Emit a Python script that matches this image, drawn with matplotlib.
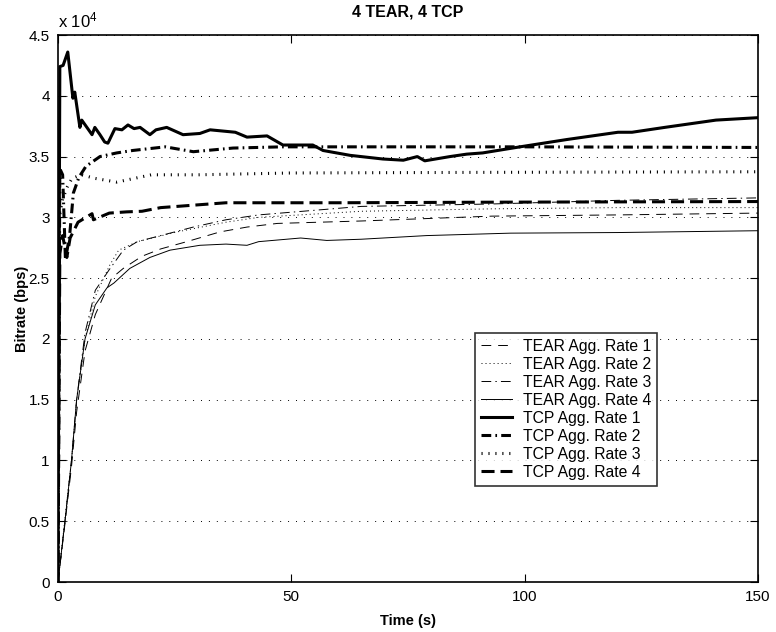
import matplotlib
matplotlib.use('Agg')
import matplotlib.pyplot as plt
from matplotlib.ticker import FuncFormatter, FixedLocator

plt.rcParams['font.family'] = ['Liberation Sans', 'DejaVu Sans']
plt.rcParams['mathtext.default'] = 'regular'
plt.rcParams['lines.scale_dashes'] = False

# values (time in s, bitrate in bps)
tear1_t = [0, 1.5, 2.9, 4, 5.8, 8, 11.5, 14, 18, 22, 27.6, 34.7, 40.5, 47, 65, 93, 120, 150]
tear1_v = [0, 4800, 9500, 14000, 19000, 22000, 25000, 25800, 26800, 27400, 28000, 28800,
           29200, 29500, 29700, 30100, 30200, 30350]

tear2_t = [0, 1.5, 2.9, 4, 5.8, 8, 11, 13, 17, 25.5, 36, 43, 65, 93, 120, 150]
tear2_v = [0, 5200, 10000, 15000, 20000, 23500, 26000, 27300, 28000, 28800, 29600, 30000,
           30500, 30700, 30800, 30800]

tear3_t = [0, 1.5, 2.9, 4, 5.8, 8, 11, 14, 17, 22, 29, 36, 43, 65, 93, 120, 150]
tear3_v = [0, 5000, 10000, 15000, 20500, 24000, 25700, 27300, 28000, 28500, 29200, 29800,
           30200, 30900, 31100, 31400, 31600]

tear4_t = [0, 1.5, 2.9, 4, 5.8, 8, 10.5, 12, 15.4, 19.7, 24, 30.4, 36, 40.5, 43, 52, 57.6,
           65, 79, 97, 120, 150]
tear4_v = [0, 5000, 10000, 15000, 20000, 22800, 24200, 24600, 25800, 26700, 27300, 27700,
           27800, 27700, 28000, 28300, 28100, 28200, 28500, 28700, 28750, 28900]

tcp1_t = [0, 0.4, 1.1, 2.1, 3.2, 3.6, 4.7, 5.1, 7.3, 7.9, 9, 10, 10.7, 12.2, 13.7, 15, 16.3,
          17.6, 19.7, 21, 23.3, 26.8, 30.4, 32.6, 38, 40.5, 44.8, 48.2, 54.6, 56.8, 62.6,
          69.6, 74, 77, 78.6, 84, 87.6, 91, 99, 109, 120, 123, 130, 141, 150]
tcp1_v = [0, 42400, 42500, 43600, 39800, 40300, 37400, 38000, 36800, 37400, 36800, 36200,
          36100, 37300, 37200, 37600, 37300, 37400, 36800, 37200, 37400, 36800, 36900, 37200,
          37000, 36600, 36700, 35950, 35950, 35500, 35100, 34800, 34700, 35000, 34650, 35000,
          35200, 35300, 35800, 36400, 37000, 37000, 37400, 38000, 38200]

tcp2_t = [0, 0.4, 1.0, 1.6, 2.5, 3.3, 4.5, 6, 9, 12.6, 16, 23, 29, 37.5, 48, 100, 150]
tcp2_v = [0, 34000, 33500, 26500, 28500, 32000, 33300, 34200, 35000, 35300, 35500, 35800,
          35400, 35700, 35800, 35800, 35750]

tcp3_t = [0, 0.3, 1, 2, 3, 5, 8, 12.6, 20, 30, 50, 90, 150]
tcp3_v = [0, 30000, 31500, 32500, 33200, 33500, 33200, 32900, 33500, 33500, 33650, 33700,
          33750]

tcp4_t = [0, 0.4, 1.0, 1.9, 2.6, 4.3, 6, 7.3, 7.6, 11, 14.7, 18, 22, 29, 36, 43, 60, 96, 150]
tcp4_v = [0, 27000, 28500, 26700, 28300, 29600, 30000, 30300, 29800, 30350, 30450, 30500,
          30800, 31000, 31200, 31200, 31200, 31250, 31300]

labels = ['TEAR Agg. Rate 1', 'TEAR Agg. Rate 2', 'TEAR Agg. Rate 3', 'TEAR Agg. Rate 4',
          'TCP Agg. Rate 1', 'TCP Agg. Rate 2', 'TCP Agg. Rate 3', 'TCP Agg. Rate 4']

fig = plt.figure(figsize=(7.76, 6.32), dpi=100)
ax = fig.add_axes([0.0747, 0.0791, 0.9021, 0.8655])

thin = 0.7
thick = 2.2
ax.plot(tear1_t, tear1_v, color='k', lw=thin, dashes=(7, 5), label=labels[0])
ax.plot(tear2_t, tear2_v, color='k', lw=thin, dashes=(0.7, 2.2), label=labels[1])
ax.plot(tear3_t, tear3_v, color='k', lw=thin, dashes=(7, 3, 1, 3), label=labels[2])
ax.plot(tear4_t, tear4_v, color='k', lw=thin, label=labels[3])
ax.plot(tcp1_t, tcp1_v, color='k', lw=thick, label=labels[4])
ax.plot(tcp2_t, tcp2_v, color='k', lw=thick, dashes=(7, 3, 1.2, 3), label=labels[5])
ax.plot(tcp3_t, tcp3_v, color='k', lw=thick, dashes=(0.8, 4.2), dash_capstyle='butt',
        label=labels[6])
ax.plot(tcp4_t, tcp4_v, color='k', lw=thick, dashes=(9.4, 4.3), label=labels[7])

ax.set_xlim(0, 150)
ax.set_ylim(0, 45000)
ax.xaxis.set_major_locator(FixedLocator([0, 50, 100, 150]))
ax.yaxis.set_major_locator(FixedLocator([i * 5000 for i in range(10)]))
ax.yaxis.set_major_formatter(FuncFormatter(lambda v, p: '%g' % (v / 1e4)))
ax.tick_params(direction='in', length=6, width=0.8, top=True, right=True,
               labelsize=11, pad=6)
ax.yaxis.grid(True, color='k', lw=0.7, linestyle=(0, (0.7, 5)))
for s in ax.spines.values():
    s.set_linewidth(1.2)

ax.text(0, 1.008, 'x 10$^{4}$', transform=ax.transAxes, fontsize=12, ha='left', va='bottom')
ax.set_title('4 TEAR, 4 TCP', fontsize=11.5, fontweight='bold', pad=13)
ax.set_xlabel('Time (s)', fontsize=10.5, fontweight='bold', labelpad=7)
ax.set_ylabel('Bitrate (bps)', fontsize=10.5, fontweight='bold', labelpad=0)

leg = ax.legend(loc='lower right', bbox_to_anchor=(0.856, 0.1755), borderaxespad=0,
                fontsize=11.3, frameon=True, fancybox=False, edgecolor='k',
                handlelength=2.0, handletextpad=0.65, labelspacing=0.19, borderpad=0.4)
leg.get_frame().set_linewidth(1.2)

fig.savefig('out.png', dpi=100)
